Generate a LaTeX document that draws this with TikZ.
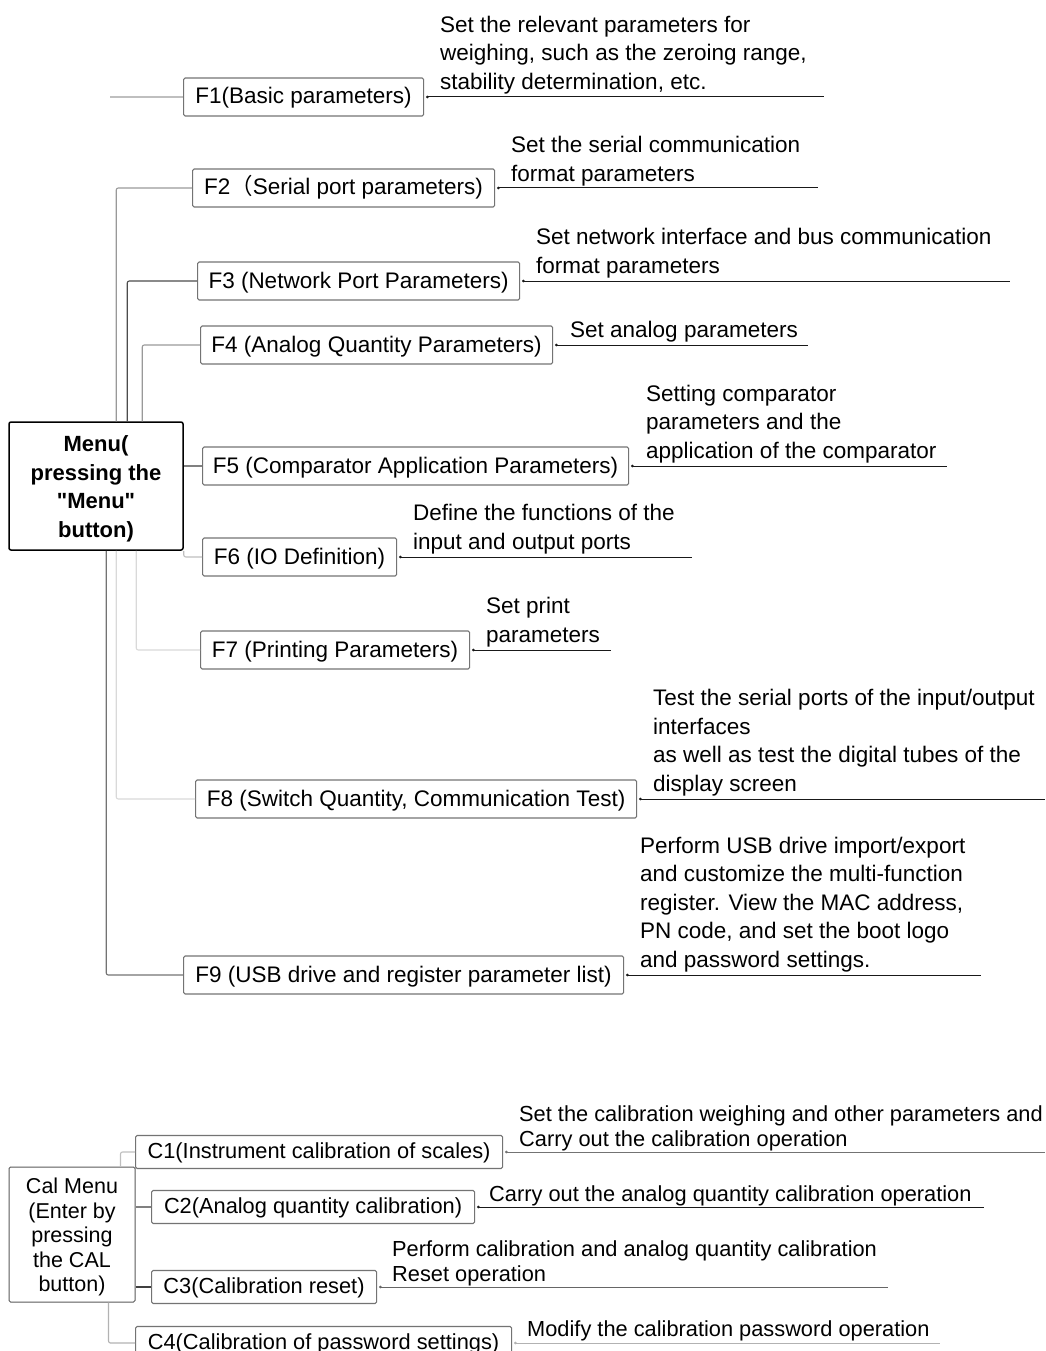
\documentclass[tikz,border=0pt]{standalone}
\usepackage{fontspec}
\setmainfont{Liberation Sans}[Ligatures=TeXOff]
\newfontfamily\cjk{Noto Sans CJK SC}
\usetikzlibrary{arrows.meta}
\begin{document}
\begin{tikzpicture}[x=1pt,y=-1pt,
  fbox/.style={draw=black!55, line width=1.1pt, rounded corners=1.5pt, minimum height=38pt, inner sep=0pt, anchor=west, text height=16.4pt, text depth=2.4pt, font=\fontsize{22.5}{27}\selectfont},
  cbox/.style={fbox, minimum height=33pt, text height=15.8pt, text depth=2.2pt, font=\fontsize{21.8}{25}\selectfont},
  desc/.style={align=left, inner sep=0pt, anchor=south west, font=\fontsize{22.5}{28.5}\selectfont, execute at end node=\strut},
  cdesc/.style={desc, font=\fontsize{21.8}{24.8}\selectfont},
  uline/.style={line width=1pt, {Circle[open,length=2.5pt,width=2.5pt]}-},
  link/.style={line width=1.1pt, rounded corners=2pt},
]
\useasboundingbox (0,0) rectangle (1045,1351);
\clip (0,0) rectangle (1045,1351);

% main menu
\node[draw=black, line width=1.5pt, rounded corners=2pt, minimum width=174pt, minimum height=128pt, inner sep=0pt, align=center, font=\bfseries\fontsize{22}{28.5}\selectfont] (menu) at (96,486) {\rule{0pt}{22pt}Menu(\\pressing the\\"Menu"\\button)};

% F boxes
\node[fbox, minimum width=240pt] (f1) at (183,97) {F1(Basic parameters)};
\node[fbox, minimum width=302pt] (f2) at (192,188) {F2{\cjk（}Serial port parameters)};
\node[fbox, minimum width=322pt] (f3) at (197,281) {F3 (Network Port Parameters)};
\node[fbox, minimum width=352pt] (f4) at (200,345) {F4 (Analog Quantity Parameters)};
\node[fbox, minimum width=426pt] (f5) at (202,466) {F5 (Comparator Application Parameters)};
\node[fbox, minimum width=194pt] (f6) at (202,557) {F6 (IO Definition)};
\node[fbox, minimum width=269pt] (f7) at (200,650) {F7 (Printing Parameters)};
\node[fbox, minimum width=441pt] (f8) at (195,799) {F8 (Switch Quantity, Communication Test)};
\node[fbox, minimum width=440pt] (f9) at (183,975) {F9 (USB drive and register parameter list)};

% descriptions
\node[desc] (d1) at (440,98) {Set the relevant parameters for\\weighing, such as the zeroing range,\\stability determination, etc.};
\node[desc] (d2) at (511,190) {Set the serial communication\\format parameters};
\node[desc] (d3) at (536,282) {Set network interface and bus communication\\format parameters};
\node[desc] (d4) at (570,346) {Set analog parameters};
\node[desc] (d5) at (646,467) {Setting comparator\\parameters and the\\application of the comparator};
\node[desc] (d6) at (413,558) {Define the functions of the\\input and output ports};
\node[desc] (d7) at (486,651) {Set print\\parameters};
\node[desc] (d8) at (653,800) {Test the serial ports of the input/output\\interfaces\\as well as test the digital tubes of the\\display screen};
\node[desc] (d9) at (640,976) {Perform USB drive import/export\\and customize the multi-function\\register. View the MAC address,\\PN code, and set the boot logo\\and password settings.};

% underline ends
\coordinate (u1) at (824,0);
\coordinate (u2) at (818,0);
\coordinate (u3) at (1010,0);
\coordinate (u4) at (808,0);
\coordinate (u5) at (947,0);
\coordinate (u6) at (692,0);
\coordinate (u7) at (611,0);
\coordinate (u8) at (1045,0);
\coordinate (u9) at (981,0);
\draw[uline, draw=black!90] ([xshift=2pt]f1.east) -- (f1.east -| u1);
\draw[uline, draw=black!90] ([xshift=2pt]f2.east) -- (f2.east -| u2);
\draw[uline, draw=black!90] ([xshift=2pt]f3.east) -- (f3.east -| u3);
\draw[uline, draw=black!90] ([xshift=2pt]f4.east) -- (f4.east -| u4);
\draw[uline, draw=black!90] ([xshift=2pt]f5.east) -- (f5.east -| u5);
\draw[uline, draw=black!90] ([xshift=2pt]f6.east) -- (f6.east -| u6);
\draw[uline, draw=black!90] ([xshift=2pt]f7.east) -- (f7.east -| u7);
\draw[uline, draw=black!90] ([xshift=2pt]f8.east) -- (f8.east -| u8);
\draw[uline, draw=black!90] ([xshift=2pt]f9.east) -- (f9.east -| u9);

% connectors from menu
\coordinate (f1free) at (110,97);
\draw[link, draw=black!25] (f1free) -- (f1.west);
\draw[link, draw=black!40] ([xshift=108pt]menu.north west) |- (f2.west);
\draw[link, draw=black!70] ([xshift=119pt]menu.north west) |- (f3.west);
\draw[link, draw=black!40] ([xshift=134pt]menu.north west) |- (f4.west);
\draw[link, draw=black!50] (menu.east |- f5.west) -- (f5.west);
\draw[link, draw=black!25] (menu.south east) |- (f6.west);
\draw[link, draw=black!15] ([xshift=128pt]menu.south west) |- (f7.west);
\draw[link, draw=black!15] ([xshift=108pt]menu.south west) |- (f8.west);
\draw[link, draw=black!55] ([xshift=98pt]menu.south west) |- (f9.west);

% cal menu
\node[draw=black!65, line width=1pt, rounded corners=1.5pt, minimum width=126pt, minimum height=135pt, inner sep=0pt, align=center, font=\fontsize{21.5}{24.5}\selectfont] (cal) at (72,1234.5) {\rule{0pt}{20.7pt}Cal Menu\\(Enter by\\pressing\\the CAL\\button)};

\node[cbox, minimum width=367pt] (c1) at (135,1152) {C1(Instrument calibration of scales)};
\node[cbox, minimum width=323pt] (c2) at (151,1207) {C2(Analog quantity calibration)};
\node[cbox, minimum width=225pt] (c3) at (151,1287) {C3(Calibration reset)};
\node[cbox, minimum width=376pt] (c4) at (135,1343) {C4(Calibration of password settings)};

\node[cdesc] (e1) at (519,1154) {Set the calibration weighing and other parameters and\\Carry out the calibration operation};
\node[cdesc] (e2) at (489,1209) {Carry out the analog quantity calibration operation};
\node[cdesc] (e3) at (392,1289) {Perform calibration and analog quantity calibration\\Reset operation};
\node[cdesc] (e4) at (527,1344) {Modify the calibration password operation};

\coordinate (v1) at (1045,0);
\coordinate (v2) at (984,0);
\coordinate (v3) at (888,0);
\coordinate (v4) at (940,0);
\draw[uline, draw=black!55] ([xshift=2pt]c1.east) -- (c1.east -| v1);
\draw[uline, draw=black!90] ([xshift=2pt]c2.east) -- (c2.east -| v2);
\draw[uline, draw=black!60] ([xshift=2pt]c3.east) -- (c3.east -| v3);
\draw[uline, draw=black!30] ([xshift=2pt]c4.east) -- (c4.east -| v4);

\draw[link, draw=black!25] ([xshift=112pt]cal.north west) |- (c1.west);
\draw[link, draw=black!50] (cal.east |- c2.west) -- (c2.west);
\draw[link, draw=black!75] (cal.east |- c3.west) -- (c3.west);
\draw[link, draw=black!30] ([xshift=100pt]cal.south west) |- (c4.west);
\end{tikzpicture}
\end{document}
